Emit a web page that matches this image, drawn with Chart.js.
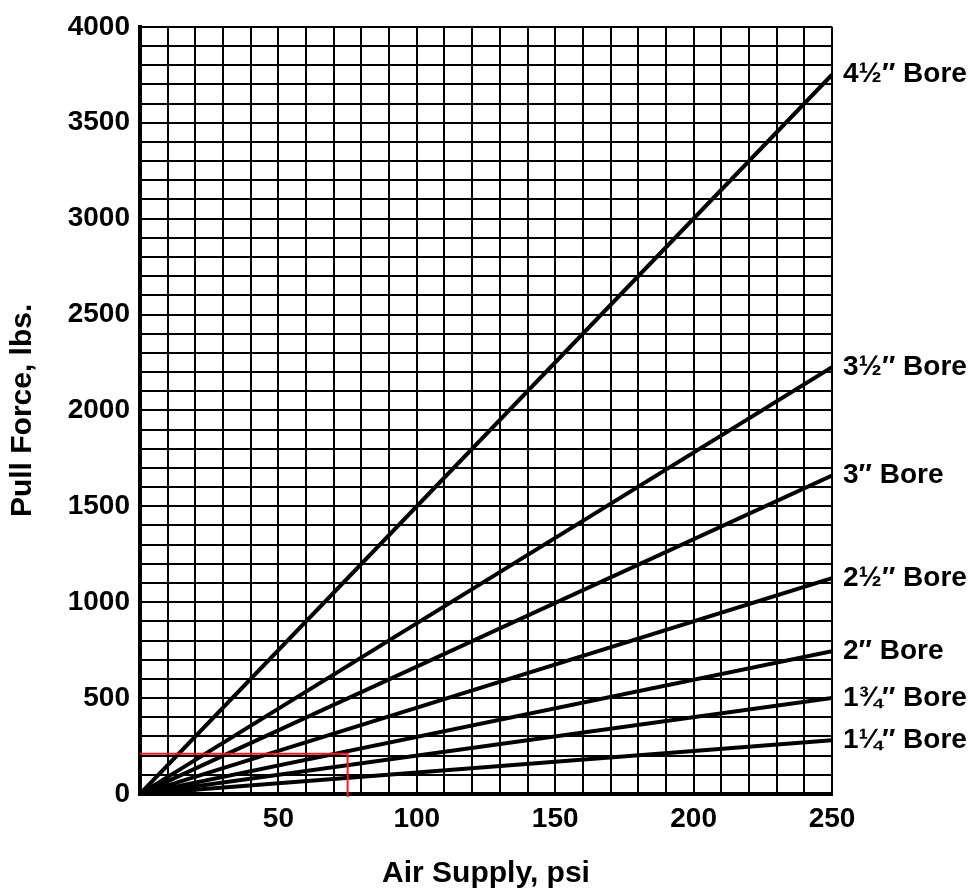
<!DOCTYPE html>
<html>
<head>
<meta charset="utf-8">
<title>Pull Force vs Air Supply</title>
<script src="https://cdn.jsdelivr.net/npm/chart.js@4/dist/chart.umd.min.js"></script>
<style>
  body { margin: 0; background: #fff; }
  #wrap { width: 975px; height: 892px; position: relative; }
</style>
</head>
<body>
<div id="wrap"><canvas id="dvCanvas"></canvas></div>
<script>
// air supply (psi) at the two ends of every bore line
var airSupply = [0, 250];

// bore names and pull force (lbs) read at 0 and 250 psi
var boreNames = ['4\u00BD\u2033 Bore', '3\u00BD\u2033 Bore', '3\u2033 Bore', '2\u00BD\u2033 Bore',
                 '2\u2033 Bore', '1\u00BE\u2033 Bore', '1\u00BC\u2033 Bore'];
var bore4_5 = [0, 3750];
var bore3_5 = [0, 2225];
var bore3 = [0, 1660];
var bore2_5 = [0, 1125];
var bore2 = [0, 745];
var bore1_75 = [0, 500];
var bore1_25 = [0, 280];
var boreValues = [bore4_5, bore3_5, bore3, bore2_5, bore2, bore1_75, bore1_25];

// red example reading: 75 psi -> about 210 lbs
var exampleX = [0, 75, 75];
var exampleY = [210, 210, -15];

// tick labels
var xTickLabels = [50, 100, 150, 200, 250];
var yTickLabels = [0, 500, 1000, 1500, 2000, 2500, 3000, 3500, 4000];

Chart.defaults.font.family = "'Liberation Sans', Arial, sans-serif";
Chart.defaults.font.weight = 'bold';
Chart.defaults.color = '#000';

var datasets = boreValues.map(function (vals, i) {
    return {
        label: boreNames[i],
        data: airSupply.map(function (x, j) { return { x: x, y: vals[j] }; }),
        borderColor: '#000',
        borderWidth: 4,
        pointRadius: 0,
        fill: false
    };
});

datasets.push({
    label: 'example',
    data: exampleX.map(function (x, j) { return { x: x, y: exampleY[j] }; }),
    borderColor: '#ee1c25',
    borderWidth: 2,
    pointRadius: 0,
    fill: false,
    clip: false,
    order: -1 // on top of the bore lines
});

// writes the bore name next to the end of each line
var boreLabels = {
    id: 'boreLabels',
    afterDatasetsDraw: function (chart) {
        var ctx = chart.ctx;
        ctx.save();
        ctx.font = "bold 28px 'Liberation Sans', Arial, sans-serif";
        ctx.fillStyle = '#000';
        ctx.textBaseline = 'middle';
        ctx.textAlign = 'left';
        boreNames.forEach(function (name, i) {
            var meta = chart.getDatasetMeta(i);
            var pt = meta.data[meta.data.length - 1];
            ctx.fillText(name, chart.chartArea.right + 11, pt.y);
        });
        ctx.restore();
    }
};

var ctx = document.getElementById('dvCanvas').getContext('2d');
var myChart = new Chart(ctx, {
    type: 'line',
    data: { datasets: datasets },
    options: {
        responsive: true,
        maintainAspectRatio: false,
        animation: false,
        layout: { padding: { top: 24, right: 143, left: 0, bottom: 0 } },
        plugins: { legend: { display: false }, tooltip: { enabled: false } },
        scales: {
            x: {
                type: 'linear',
                min: 0,
                max: 250,
                afterFit: function (scale) { scale.height = 98; },
                ticks: {
                    stepSize: 10,
                    autoSkip: false,
                    maxRotation: 0,
                    padding: 8,
                    font: { size: 28, weight: 'bold' },
                    callback: function (v) { return xTickLabels.indexOf(v) >= 0 ? v : ''; }
                },
                grid: { color: '#000', lineWidth: 2, drawTicks: false },
                border: { color: '#000', width: 4 },
                title: {
                    display: true,
                    text: 'Air Supply, psi',
                    font: { size: 30, weight: 'bold' },
                    padding: { top: 4, bottom: 0 }
                }
            },
            y: {
                type: 'linear',
                min: 0,
                max: 4000,
                afterFit: function (scale) { scale.width = 140; },
                ticks: {
                    stepSize: 100,
                    autoSkip: false,
                    padding: 10,
                    font: { size: 28, weight: 'bold' },
                    callback: function (v) { return yTickLabels.indexOf(v) >= 0 ? v : ''; }
                },
                grid: { color: '#000', lineWidth: 2, drawTicks: false },
                border: { color: '#000', width: 4 },
                title: {
                    display: true,
                    text: 'Pull Force, lbs.',
                    font: { size: 30, weight: 'bold' },
                    padding: { top: 5, bottom: 4 }
                }
            }
        }
    },
    plugins: [boreLabels]
});
</script>
</body>
</html>
